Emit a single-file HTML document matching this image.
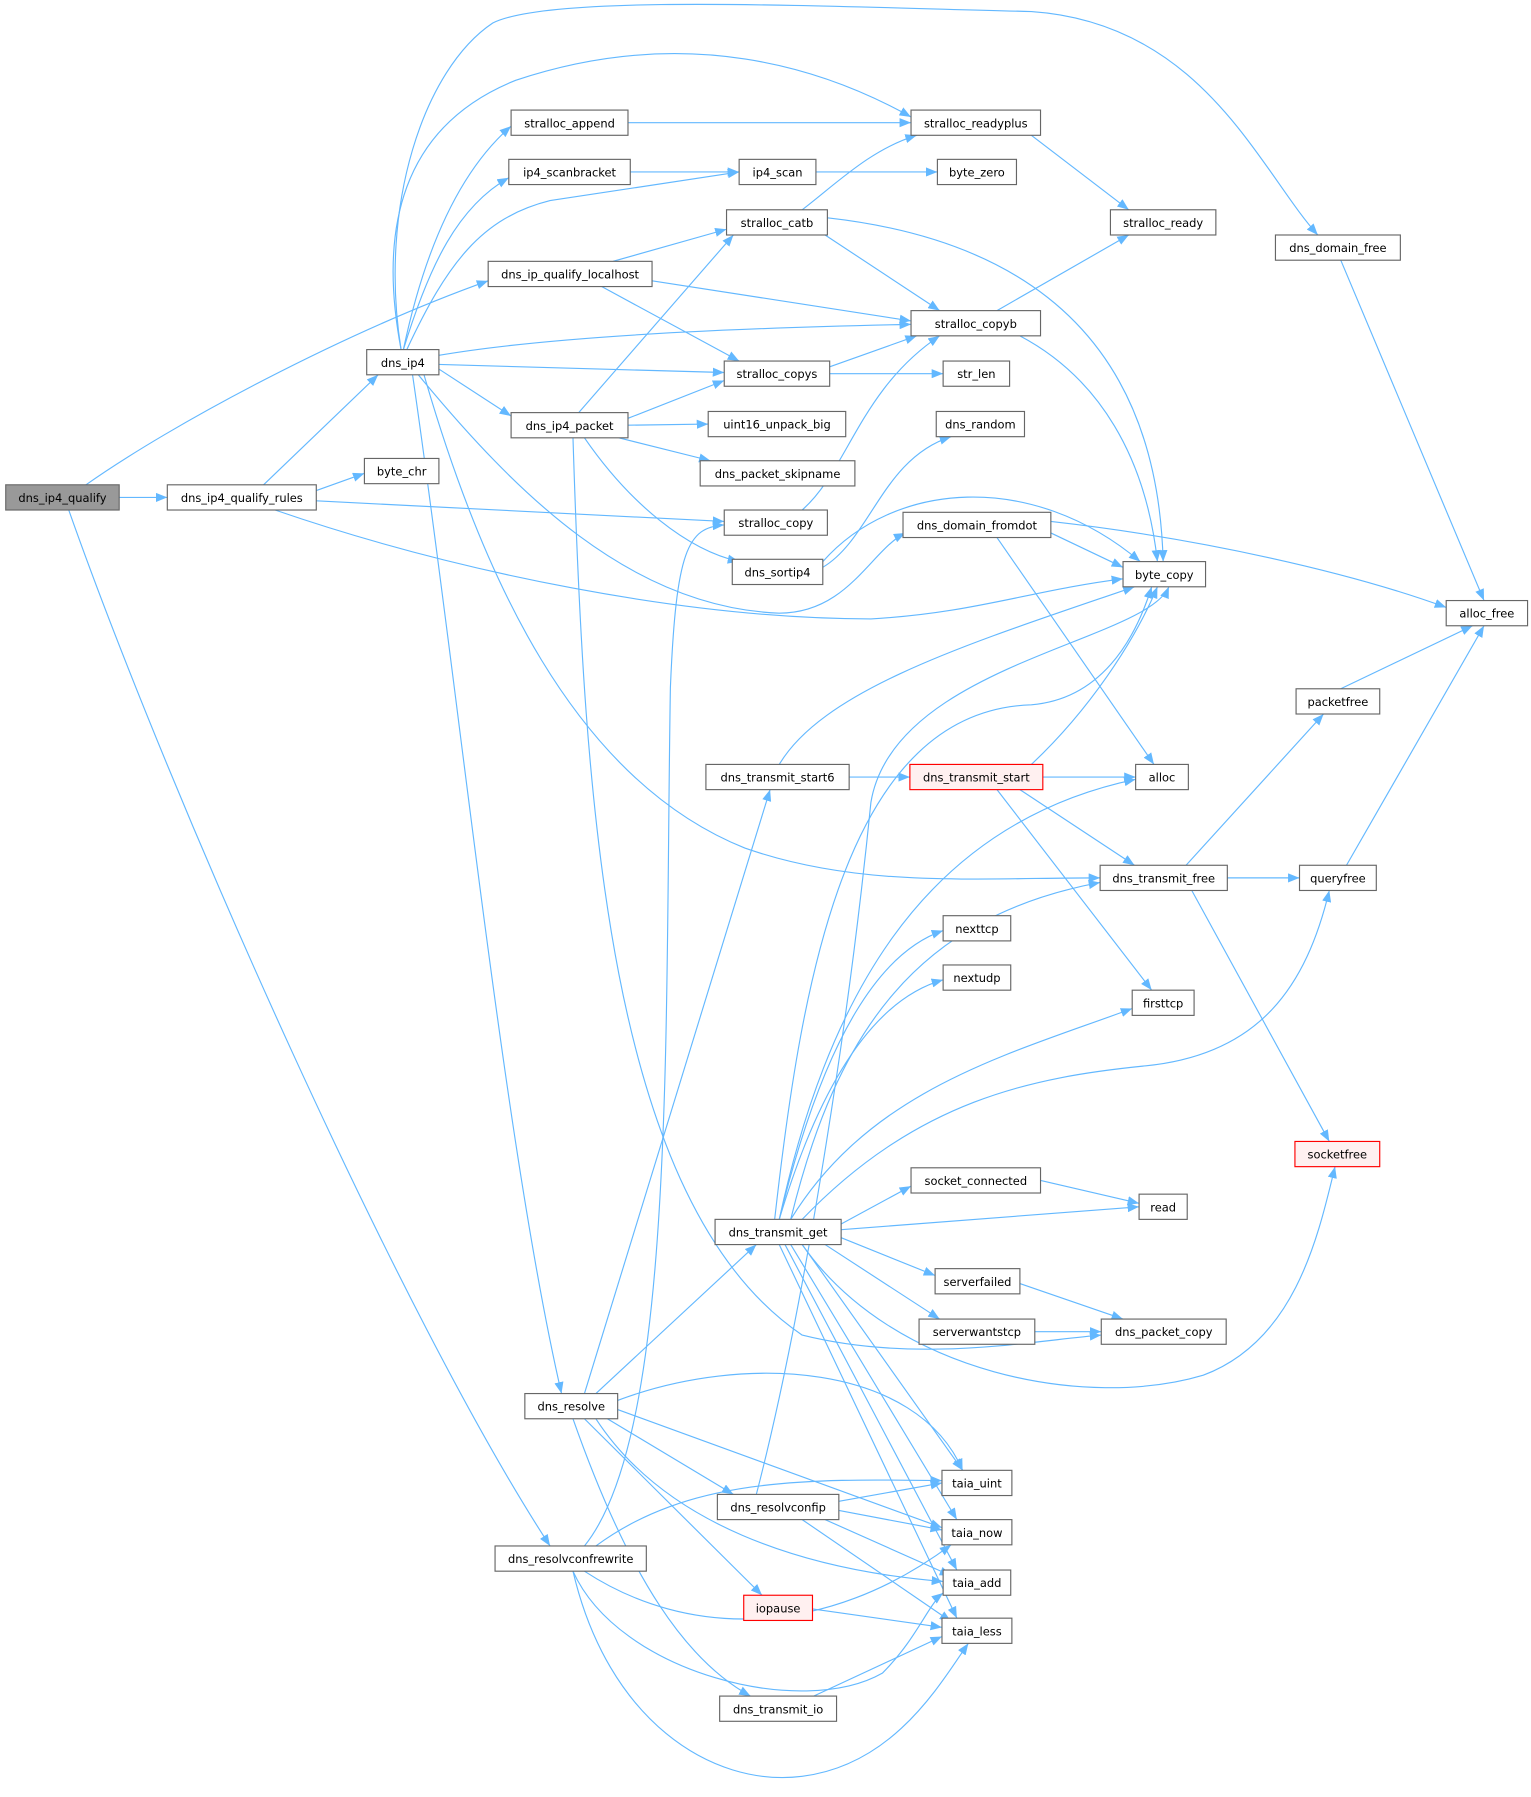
<!DOCTYPE html>
<html><head><meta charset="utf-8"><style>
html,body{margin:0;padding:0;background:#fff;}
svg{display:block;}
text{font-family:"DejaVu Sans","Liberation Sans",sans-serif;font-size:10px;fill:#000;text-anchor:middle;}
.n{fill:#fff;stroke:#666;stroke-width:1;}
.g{fill:#999;stroke:#666;stroke-width:1;}
.r{fill:#fff0f0;stroke:#f00;stroke-width:1;}
.e path{fill:none;stroke:#63b8ff;stroke-width:1;marker-end:url(#a);}
</style></head><body>
<svg width="1531" height="1797" viewBox="0 0 1336 1568" xmlns="http://www.w3.org/2000/svg">
<defs><marker id="a" markerUnits="userSpaceOnUse" markerWidth="11" markerHeight="8" refX="10" refY="4" orient="auto"><path d="M0,0 L10,4 L0,8 z" fill="#63b8ff"/></marker></defs>
<g class="e">
<path d="M104,434 L146,434"/>
<path d="M75,423 C150,370 300,290 426,245"/>
<path d="M60,445 C150,700 350,1150 480,1349"/>
<path d="M230,423 L330,327"/>
<path d="M276,428 L318,413"/>
<path d="M276,437 L632,455"/>
<path d="M240,445 C400,500 600,540 760,540 C850,535 900,515 980,505"/>
<path d="M352,305 C370,220 400,150 446,110"/>
<path d="M352,305 C375,230 400,180 444,155"/>
<path d="M355,305 C390,230 420,190 480,175 L645,150"/>
<path d="M350,305 C330,200 350,110 450,70 C600,20 720,60 795,102"/>
<path d="M350,305 C330,180 370,60 430,20 C480,-5 700,5 900,10 C1050,20 1100,150 1150,205"/>
<path d="M383,310 C500,290 700,285 795,283"/>
<path d="M383,318 L632,325"/>
<path d="M383,322 L446,363"/>
<path d="M365,327 C450,430 550,530 680,535 C740,535 760,480 790,465"/>
<path d="M370,327 C420,500 500,680 650,740 C750,775 850,766 960,766"/>
<path d="M360,327 C400,600 440,1000 490,1216"/>
<path d="M505,360 L640,205"/>
<path d="M548,365 L632,332"/>
<path d="M548,371 L618,370"/>
<path d="M540,382 L620,402"/>
<path d="M510,382 C550,440 600,480 645,490"/>
<path d="M500,382 C510,700 530,1050 700,1165 C800,1190 900,1170 961,1165"/>
<path d="M548,107 L795,107"/>
<path d="M550,150 L645,150"/>
<path d="M712,150 L818,150"/>
<path d="M535,228 L634,200"/>
<path d="M569,245 L795,280"/>
<path d="M525,250 L645,315"/>
<path d="M700,183 C730,160 760,130 800,118"/>
<path d="M720,205 L820,271"/>
<path d="M722,190 C900,210 1010,300 1015,490"/>
<path d="M900,118 L985,183"/>
<path d="M870,271 L985,205"/>
<path d="M890,293 C960,330 1000,400 1010,490"/>
<path d="M724,320 L800,293"/>
<path d="M724,326 L823,326"/>
<path d="M700,445 C740,410 750,340 820,293"/>
<path d="M718,495 C760,470 770,400 830,381"/>
<path d="M718,490 C780,420 900,410 995,490"/>
<path d="M917,465 L980,495"/>
<path d="M917,455 C1050,470 1180,500 1262,530"/>
<path d="M870,469 L1007,667"/>
<path d="M1170,227 L1295,524"/>
<path d="M1170,601 L1285,546"/>
<path d="M1175,755 L1295,546"/>
<path d="M680,667 C720,600 850,560 990,512"/>
<path d="M741,678 L794,678"/>
<path d="M910,678 L991,678"/>
<path d="M900,667 C950,620 990,560 1010,512"/>
<path d="M890,689 L990,755"/>
<path d="M870,689 L1005,864"/>
<path d="M1035,755 L1155,623"/>
<path d="M1071,766 L1134,766"/>
<path d="M1040,777 L1160,996"/>
<path d="M676,1064 C700,850 740,620 900,615 C960,610 990,560 1005,512"/>
<path d="M680,1064 C720,880 800,720 991,680"/>
<path d="M690,1064 C730,900 800,800 960,770"/>
<path d="M680,1064 C720,900 770,830 823,812"/>
<path d="M680,1064 C720,930 770,870 823,855"/>
<path d="M690,1064 C760,950 880,920 988,880"/>
<path d="M700,1064 C800,960 900,940 1000,930 C1100,920 1140,860 1160,777"/>
<path d="M734,1068 L795,1035"/>
<path d="M734,1073 L994,1053"/>
<path d="M734,1080 L816,1113"/>
<path d="M720,1086 L820,1151"/>
<path d="M700,1086 C780,1200 950,1230 1050,1200 C1130,1170 1150,1080 1165,1018"/>
<path d="M700,1086 L840,1283"/>
<path d="M690,1086 L835,1326"/>
<path d="M685,1086 L835,1370"/>
<path d="M680,1086 L835,1412"/>
<path d="M908,1030 L994,1050"/>
<path d="M890,1120 L980,1151"/>
<path d="M903,1162 L961,1162"/>
<path d="M510,1216 L672,689"/>
<path d="M520,1216 L660,1086"/>
<path d="M539,1222 C650,1180 800,1190 840,1283"/>
<path d="M539,1230 L822,1333"/>
<path d="M530,1238 L640,1304"/>
<path d="M520,1238 C580,1330 700,1370 823,1380"/>
<path d="M510,1238 L665,1392"/>
<path d="M500,1238 C550,1380 600,1450 655,1480"/>
<path d="M660,1304 C700,1150 740,900 760,700 C780,580 1000,560 1020,512"/>
<path d="M732,1310 L822,1294"/>
<path d="M732,1318 L822,1335"/>
<path d="M720,1326 L830,1375"/>
<path d="M700,1326 L830,1415"/>
<path d="M510,1349 C590,1250 580,900 585,600 C590,480 600,460 632,458"/>
<path d="M520,1349 C600,1290 700,1290 822,1292"/>
<path d="M510,1371 C600,1430 720,1430 830,1348"/>
<path d="M500,1371 C540,1460 700,1500 770,1460 C800,1430 810,1400 823,1390"/>
<path d="M500,1371 C530,1500 620,1560 700,1550 C780,1540 820,1470 845,1434"/>
<path d="M709,1404 L822,1420"/>
<path d="M710,1480 L822,1428"/>
</g>
<g>
<rect class="g" x="5" y="423" width="99" height="22"/><text x="54.5" y="438">dns_ip4_qualify</text>
<rect class="n" x="146" y="423" width="130" height="22"/><text x="211" y="438">dns_ip4_qualify_rules</text>
<rect class="n" x="318" y="400" width="65" height="22"/><text x="350.5" y="415">byte_chr</text>
<rect class="n" x="320" y="305" width="63" height="22"/><text x="351.5" y="320">dns_ip4</text>
<rect class="n" x="446" y="96" width="102" height="22"/><text x="497" y="111">stralloc_append</text>
<rect class="n" x="444" y="139" width="106" height="22"/><text x="497" y="154">ip4_scanbracket</text>
<rect class="n" x="426" y="228" width="143" height="22"/><text x="497.5" y="243">dns_ip_qualify_localhost</text>
<rect class="n" x="446" y="360" width="102" height="22"/><text x="497" y="375">dns_ip4_packet</text>
<rect class="n" x="795" y="96" width="113" height="22"/><text x="851.5" y="111">stralloc_readyplus</text>
<rect class="n" x="645" y="139" width="67" height="22"/><text x="678.5" y="154">ip4_scan</text>
<rect class="n" x="818" y="139" width="69" height="22"/><text x="852.5" y="154">byte_zero</text>
<rect class="n" x="634" y="183" width="88" height="22"/><text x="678" y="198">stralloc_catb</text>
<rect class="n" x="969" y="183" width="92" height="22"/><text x="1015" y="198">stralloc_ready</text>
<rect class="n" x="1113" y="205" width="109" height="22"/><text x="1167.5" y="220">dns_domain_free</text>
<rect class="n" x="795" y="271" width="113" height="22"/><text x="851.5" y="286">stralloc_copyb</text>
<rect class="n" x="632" y="315" width="92" height="22"/><text x="678" y="330">stralloc_copys</text>
<rect class="n" x="823" y="315" width="58" height="22"/><text x="852" y="330">str_len</text>
<rect class="n" x="618" y="359" width="120" height="22"/><text x="678" y="374">uint16_unpack_big</text>
<rect class="n" x="817" y="359" width="77" height="22"/><text x="855.5" y="374">dns_random</text>
<rect class="n" x="611" y="402" width="135" height="22"/><text x="678.5" y="417">dns_packet_skipname</text>
<rect class="n" x="632" y="445" width="90" height="22"/><text x="677" y="460">stralloc_copy</text>
<rect class="n" x="639" y="488" width="79" height="22"/><text x="678.5" y="503">dns_sortip4</text>
<rect class="n" x="788" y="447" width="129" height="22"/><text x="852.5" y="462">dns_domain_fromdot</text>
<rect class="n" x="980" y="490" width="72" height="22"/><text x="1016" y="505">byte_copy</text>
<rect class="n" x="1262" y="524" width="71" height="22"/><text x="1297.5" y="539">alloc_free</text>
<rect class="n" x="1131" y="601" width="73" height="22"/><text x="1167.5" y="616">packetfree</text>
<rect class="n" x="616" y="667" width="125" height="22"/><text x="678.5" y="682">dns_transmit_start6</text>
<rect class="r" x="794" y="667" width="116" height="22"/><text x="852" y="682">dns_transmit_start</text>
<rect class="n" x="991" y="667" width="46" height="22"/><text x="1014" y="682">alloc</text>
<rect class="n" x="960" y="755" width="111" height="22"/><text x="1015.5" y="770">dns_transmit_free</text>
<rect class="n" x="1134" y="755" width="67" height="22"/><text x="1167.5" y="770">queryfree</text>
<rect class="n" x="823" y="799" width="59" height="22"/><text x="852.5" y="814">nexttcp</text>
<rect class="n" x="823" y="842" width="59" height="22"/><text x="852.5" y="857">nextudp</text>
<rect class="n" x="988" y="864" width="54" height="22"/><text x="1015" y="879">firsttcp</text>
<rect class="r" x="1130" y="996" width="74" height="22"/><text x="1167" y="1011">socketfree</text>
<rect class="n" x="795" y="1019" width="113" height="22"/><text x="851.5" y="1034">socket_connected</text>
<rect class="n" x="994" y="1042" width="42" height="22"/><text x="1015" y="1057">read</text>
<rect class="n" x="624" y="1064" width="110" height="22"/><text x="679" y="1079">dns_transmit_get</text>
<rect class="n" x="816" y="1107" width="74" height="22"/><text x="853" y="1122">serverfailed</text>
<rect class="n" x="802" y="1151" width="101" height="22"/><text x="852.5" y="1166">serverwantstcp</text>
<rect class="n" x="961" y="1151" width="109" height="22"/><text x="1015.5" y="1166">dns_packet_copy</text>
<rect class="n" x="458" y="1216" width="81" height="22"/><text x="498.5" y="1231">dns_resolve</text>
<rect class="n" x="822" y="1283" width="61" height="22"/><text x="852.5" y="1298">taia_uint</text>
<rect class="n" x="626" y="1304" width="106" height="22"/><text x="679" y="1319">dns_resolvconfip</text>
<rect class="n" x="822" y="1326" width="61" height="22"/><text x="852.5" y="1341">taia_now</text>
<rect class="n" x="432" y="1349" width="132" height="22"/><text x="498" y="1364">dns_resolvconfrewrite</text>
<rect class="n" x="823" y="1370" width="59" height="22"/><text x="852.5" y="1385">taia_add</text>
<rect class="r" x="649" y="1392" width="60" height="22"/><text x="679" y="1407">iopause</text>
<rect class="n" x="822" y="1412" width="61" height="22"/><text x="852.5" y="1427">taia_less</text>
<rect class="n" x="628" y="1480" width="102" height="22"/><text x="679" y="1495">dns_transmit_io</text>
</g>
</svg>
</body></html>
